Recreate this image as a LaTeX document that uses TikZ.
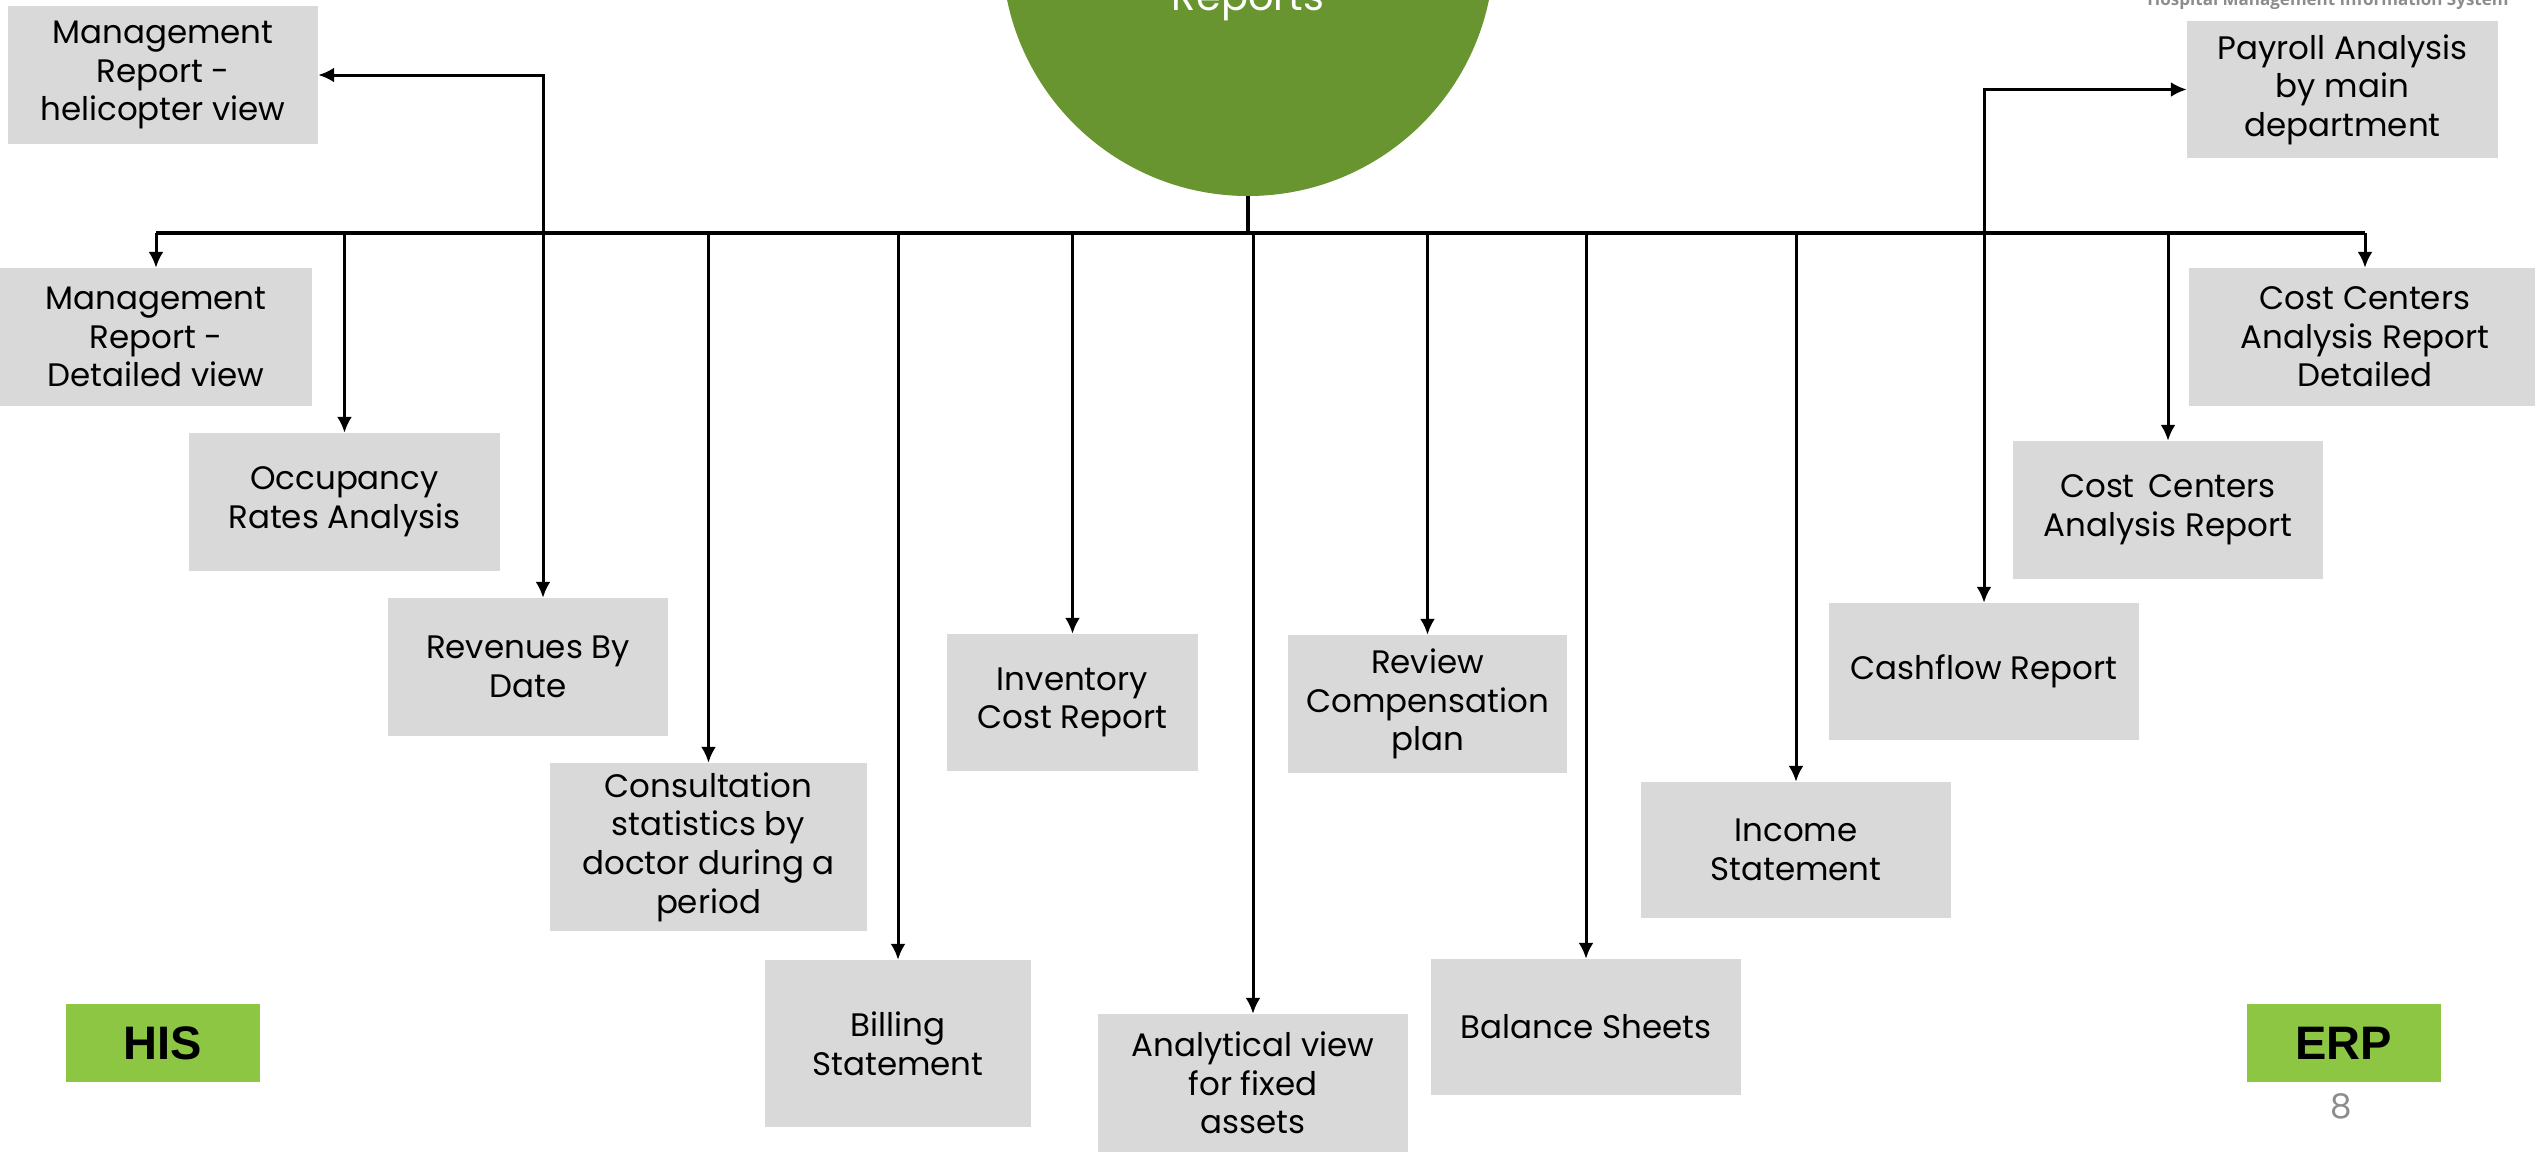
\documentclass[tikz,border=0pt]{standalone}
\usepackage{fontspec}
\setmainfont{Poppins}
\newfontfamily\tagfont{Liberation Sans}
\newfontfamily\hdrfont{Open Sans}
\usetikzlibrary{arrows.meta}
\definecolor{boxgray}{HTML}{D9D9D9}
\definecolor{circgreen}{HTML}{699530}
\definecolor{taggreen}{HTML}{8DC642}
\definecolor{pagegray}{HTML}{8C8C8C}
\tikzset{
  rbox/.style 2 args={fill=boxgray, draw=none, align=center, inner sep=0pt,
    minimum width=#1pt, minimum height=#2pt, text=black,
    font=\fontsize{32.5}{38.6}\selectfont},
  tagbox/.style={fill=taggreen, draw=none, inner sep=0pt, minimum width=194pt,
    minimum height=78pt, font=\tagfont\bfseries\fontsize{47}{50}\selectfont, text=black},
  arr/.style={line width=3pt, -{Latex[length=16pt,width=15pt]}},
  busline/.style={line width=4.5pt},
  stemline/.style={line width=4.5pt}
}
\begin{document}
\begin{tikzpicture}[x=1pt,y=-1pt]
\useasboundingbox (0,0) rectangle (2535,1152);
\clip (0,0) rectangle (2535,1152);
% header text (cut off at top)
\node[anchor=base, text=pagegray, font=\hdrfont\bfseries\fontsize{17}{19}\selectfont] (hdr) at (2328,5) {Hospital Management Information System};
% central circle
\node[circle, fill=circgreen, draw=none, minimum size=492pt, inner sep=0pt] (rep) at (1248,-50) {};
\node[anchor=base, text=white, font=\fontsize{40}{44}\selectfont] (reptxt) at (1248,10) {Reports};
% report boxes
\node[rbox={310}{138}] (heli) at (163,75) {Management\\Report -\\helicopter view};
\node[rbox={312}{138}] (det) at (156,337) {Management\\Report -\\Detailed view};
\node[rbox={311}{138}] (occ) at (344.5,502) {Occupancy\\Rates Analysis};
\node[rbox={280}{138}] (rev) at (528,667) {Revenues By\\Date};
\node[rbox={317}{168}] (con) at (708.5,847) {Consultation\\statistics by\\doctor during a\\period};
\node[rbox={266}{167}] (bil) at (898,1043.5) {Billing\\Statement};
\node[rbox={251}{137}] (inv) at (1072.5,702.5) {Inventory\\Cost Report};
\node[rbox={310}{138}] (ana) at (1253,1083) {Analytical view\\for fixed\\assets};
\node[rbox={279}{138}] (cmp) at (1427.5,704) {Review\\Compensation\\plan};
\node[rbox={310}{136}] (bal) at (1586,1027) {Balance Sheets};
\node[rbox={310}{136}] (inc) at (1796,850) {Income\\Statement};
\node[rbox={310}{137}] (cash) at (1984,671.5) {Cashflow Report};
\node[rbox={310}{138}] (cc) at (2168,510) {Cost\hspace{14pt}Centers\\Analysis Report};
\node[rbox={352}{138}] (ccd) at (2365,337) {Cost Centers\\Analysis Report\\Detailed};
\node[rbox={311}{137}] (pay) at (2342.5,89.5) {Payroll Analysis\\by main\\department};
% HIS / ERP tags
\node[tagbox] (his) at (163,1043) {HIS};
\node[tagbox] (erp) at (2343.5,1043) {ERP};
\node[text=pagegray, font=\fontsize{34}{40}\selectfont] (pg) at (2341,1106) {8};
% bus and connectors
\coordinate (bus) at (1248,233);
\coordinate (jl) at (543,233);
\coordinate (jr) at (1984,233);
\draw[stemline] (rep.south) -- (rep.south |- bus);
\draw[busline] (det.north |- bus) -- (ccd.north |- bus);
\draw[arr] (det.north |- bus) -- (det.north);
\draw[arr] (occ.north |- bus) -- (occ.north);
\draw[arr] (jl) -- (jl |- rev.north);
\draw[arr] (jl) |- (heli.east);
\draw[arr] (con.north |- bus) -- (con.north);
\draw[arr] (bil.north |- bus) -- (bil.north);
\draw[arr] (inv.north |- bus) -- (inv.north);
\draw[arr] (ana.north |- bus) -- (ana.north);
\draw[arr] (cmp.north |- bus) -- (cmp.north);
\draw[arr] (bal.north |- bus) -- (bal.north);
\draw[arr] (inc.north |- bus) -- (inc.north);
\draw[arr] (jr) -- (jr |- cash.north);
\draw[arr] (jr) |- (pay.west);
\draw[arr] (cc.north |- bus) -- (cc.north);
\draw[arr] (ccd.north |- bus) -- (ccd.north);
\end{tikzpicture}
\end{document}
